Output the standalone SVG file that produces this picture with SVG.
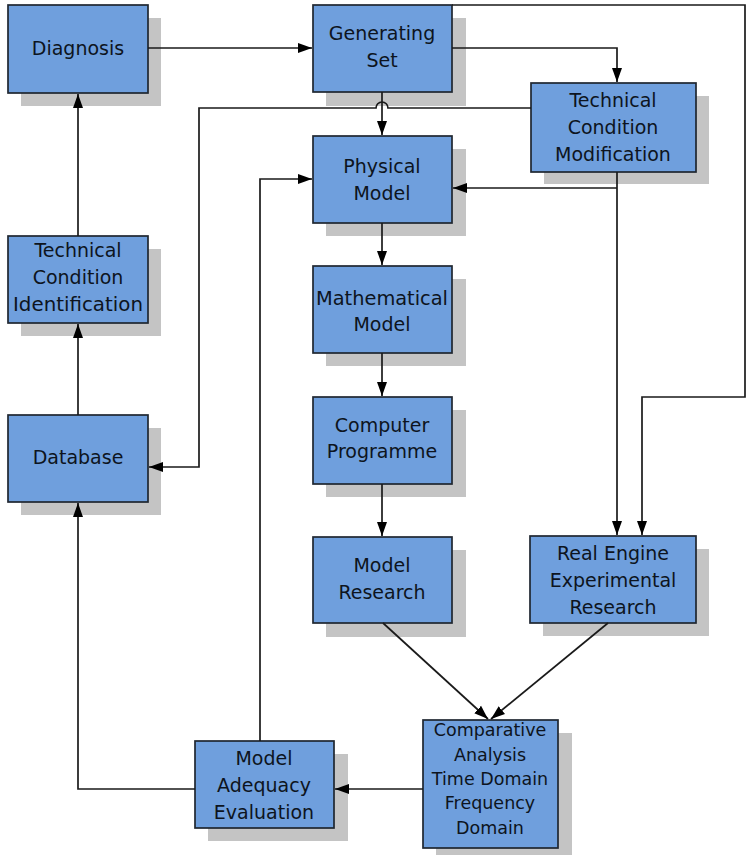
<svg xmlns="http://www.w3.org/2000/svg" width="748" height="855" viewBox="0 0 748 855">
<style>
.sh{fill:#c4c4c4}
.bx{fill:#6f9fdd;stroke:#1f2630;stroke-width:1.7}
.t{font-family:"DejaVu Sans",Verdana,sans-serif;font-size:19px;fill:#0d1420;text-anchor:middle}
.c{font-size:17.5px}
.ln{fill:none;stroke:#1a1a1a;stroke-width:1.7}
</style>
<defs>
<marker id="ah" markerUnits="userSpaceOnUse" markerWidth="15" markerHeight="12" refX="14" refY="6" orient="auto">
<path d="M0,1 L14,6 L0,11 Z" fill="#000"/>
</marker>
</defs>
<rect width="748" height="855" fill="#fff"/>

<g id="diagnosis"><rect class="sh" x="21" y="18" width="140" height="88"/><rect class="bx" x="8" y="5" width="140" height="88"/><text class="t" x="78" y="55">Diagnosis</text></g>
<g id="generating-set"><rect class="sh" x="326" y="18" width="140" height="88"/><rect class="bx" x="313" y="5" width="139" height="87"/><text class="t" x="382" y="40">Generating</text><text class="t" x="382" y="67">Set</text></g>
<g id="tc-modification"><rect class="sh" x="544" y="96" width="165" height="88"/><rect class="bx" x="531" y="83" width="165" height="89"/><text class="t" x="613" y="107">Technical</text><text class="t" x="613" y="134">Condition</text><text class="t" x="613" y="161">Modification</text></g>
<g id="physical-model"><rect class="sh" x="326" y="149" width="140" height="87"/><rect class="bx" x="313" y="136" width="139" height="87"/><text class="t" x="382" y="173">Physical</text><text class="t" x="382" y="200">Model</text></g>
<g id="mathematical-model"><rect class="sh" x="326" y="279" width="140" height="87"/><rect class="bx" x="313" y="266" width="139" height="87"/><text class="t" x="382" y="305" textLength="132" lengthAdjust="spacingAndGlyphs">Mathematical</text><text class="t" x="382" y="331">Model</text></g>
<g id="computer-programme"><rect class="sh" x="326" y="410" width="140" height="87"/><rect class="bx" x="313" y="397" width="139" height="87"/><text class="t" x="382" y="432">Computer</text><text class="t" x="382" y="458">Programme</text></g>
<g id="model-research"><rect class="sh" x="326" y="550" width="140" height="87"/><rect class="bx" x="313" y="537" width="139" height="86"/><text class="t" x="382" y="572">Model</text><text class="t" x="382" y="599">Research</text></g>
<g id="real-engine"><rect class="sh" x="543" y="549" width="166" height="87"/><rect class="bx" x="530" y="536" width="166" height="87"/><text class="t" x="613" y="560">Real Engine</text><text class="t" x="613" y="587">Experimental</text><text class="t" x="613" y="614">Research</text></g>
<g id="comparative-analysis"><rect class="sh" x="436" y="733" width="136" height="130"/><rect class="bx" x="423" y="720" width="135" height="128"/><text class="t c" x="490" y="736">Comparative</text><text class="t c" x="490" y="761">Analysis</text><text class="t c" x="490" y="785">Time Domain</text><text class="t c" x="490" y="809">Frequency</text><text class="t c" x="490" y="834">Domain</text></g>
<g id="model-adequacy"><rect class="sh" x="208" y="754" width="140" height="87"/><rect class="bx" x="195" y="741" width="139" height="87"/><text class="t" x="264" y="765">Model</text><text class="t" x="264" y="792">Adequacy</text><text class="t" x="264" y="819">Evaluation</text></g>
<g id="tc-identification"><rect class="sh" x="21" y="249" width="140" height="87"/><rect class="bx" x="8" y="236" width="140" height="87"/><text class="t" x="78" y="257">Technical</text><text class="t" x="78" y="284">Condition</text><text class="t" x="78" y="311" textLength="130" lengthAdjust="spacingAndGlyphs">Identification</text></g>
<g id="database"><rect class="sh" x="21" y="428" width="140" height="87"/><rect class="bx" x="8" y="415" width="140" height="87"/><text class="t" x="78" y="464">Database</text></g>

<g id="connectors">
<path class="ln" d="M148,48 H312" marker-end="url(#ah)"/>
<path class="ln" d="M452,48 H617 V82" marker-end="url(#ah)"/>
<path class="ln" d="M382,92 V135" marker-end="url(#ah)"/>
<path class="ln" d="M531,108 H388 A6,6 0 0 0 376,108 H199 V467 H149" marker-end="url(#ah)"/>
<path class="ln" d="M617,172 V535" marker-end="url(#ah)"/>
<path class="ln" d="M617,188 H453" marker-end="url(#ah)"/>
<path class="ln" d="M452,5 H745 V397 H642 V535" marker-end="url(#ah)"/>
<path class="ln" d="M382,223 V265" marker-end="url(#ah)"/>
<path class="ln" d="M382,353 V396" marker-end="url(#ah)"/>
<path class="ln" d="M382,484 V536" marker-end="url(#ah)"/>
<path class="ln" d="M383,623 L488,719" marker-end="url(#ah)"/>
<path class="ln" d="M608,623 L491,719" marker-end="url(#ah)"/>
<path class="ln" d="M423,789 H335" marker-end="url(#ah)"/>
<path class="ln" d="M195,789 H78 V503" marker-end="url(#ah)"/>
<path class="ln" d="M260,741 V179 H312" marker-end="url(#ah)"/>
<path class="ln" d="M78,415 V324" marker-end="url(#ah)"/>
<path class="ln" d="M78,236 V94" marker-end="url(#ah)"/>
</g>
</svg>
